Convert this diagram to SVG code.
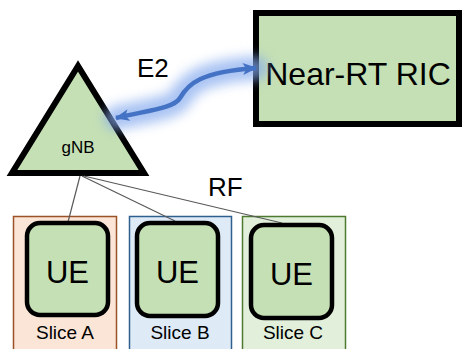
<svg xmlns="http://www.w3.org/2000/svg" width="462" height="349" viewBox="0 0 462 349">
<defs>
<style>
text{font-family:"Liberation Sans",Arial,sans-serif;fill:#000}
.ue{fill:#C5E0B4;stroke:#000;stroke-width:4.5}
.link{stroke:#595959;stroke-width:1.2;fill:none}
.uet{font-size:31px;text-anchor:middle}
.sl{font-size:19px;text-anchor:middle}
</style>
<filter id="glow" x="-30%" y="-80%" width="160%" height="260%">
<feGaussianBlur stdDeviation="6"/>
</filter>
<marker id="ah" viewBox="0 0 12 10" refX="11" refY="5" markerUnits="userSpaceOnUse" markerWidth="15" markerHeight="12" orient="auto-start-reverse">
<path d="M0,0 L12,5 L0,10 L3,5 z" fill="#4472C4"/>
</marker>
</defs>
<rect width="462" height="349" fill="#fff"/>
<g id="slice-a">
<rect x="13.5" y="216.5" width="103" height="140" fill="#FBE5D6" stroke="#9A5226" stroke-width="1.5"/>
<text class="sl" x="65" y="339">Slice A</text>
</g>
<g id="slice-b">
<rect x="129.5" y="216.5" width="102" height="140" fill="#DEEBF7" stroke="#2F5F8F" stroke-width="1.5"/>
<text class="sl" x="180" y="339">Slice B</text>
</g>
<g id="slice-c">
<rect x="242.5" y="216.5" width="103" height="140" fill="#E2EFDA" stroke="#4E7A30" stroke-width="1.5"/>
<text class="sl" x="293" y="339">Slice C</text>
</g>
<g id="gnb">
<polygon points="78,66 12,173 144,173" fill="#C5E0B4" stroke="#000" stroke-width="6" stroke-linejoin="miter"/>
<text x="78" y="153" font-size="17" text-anchor="middle">gNB</text>
</g>
<g id="near-rt-ric">
<rect x="256" y="13" width="203" height="111" fill="#C5E0B4" stroke="#000" stroke-width="6"/>
<text x="358" y="85" font-size="32" text-anchor="middle">Near-RT RIC</text>
</g>
<g id="connectors">
<path class="link" d="M80,176 L68,222"/>
<path class="link" d="M82,176 L175,221"/>
<path class="link" d="M84,176 L282,223"/>
<path d="M116,118 C150,110 174,108 180,98 C188,84 200,72 256,68" fill="none" stroke="#85AAEE" stroke-width="24" stroke-linecap="round" opacity="0.7" filter="url(#glow)"/>
<path d="M116,118 C150,110 174,108 180,98 C188,84 200,72 256,68" fill="none" stroke="#4472C4" stroke-width="4.5" marker-start="url(#ah)" marker-end="url(#ah)"/>
<text x="137" y="77" font-size="26">E2</text>
<text x="208" y="196" font-size="26">RF</text>
</g>
<g id="ue-a">
<rect class="ue" x="27" y="223" width="81" height="92" rx="13"/>
<text class="uet" x="67.5" y="283">UE</text>
</g>
<g id="ue-b">
<rect class="ue" x="137" y="223" width="81" height="93" rx="13"/>
<text class="uet" x="177.5" y="283">UE</text>
</g>
<g id="ue-c">
<rect class="ue" x="251" y="225" width="81" height="93" rx="13"/>
<text class="uet" x="291.5" y="285">UE</text>
</g>
</svg>
